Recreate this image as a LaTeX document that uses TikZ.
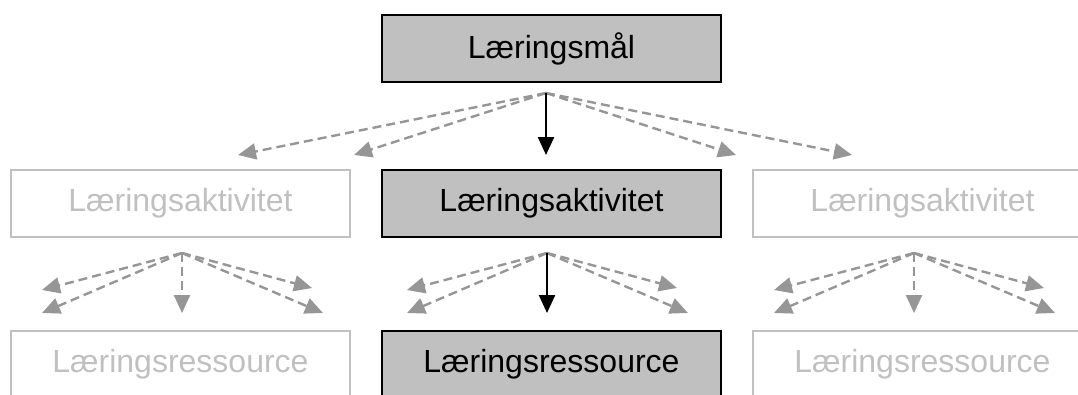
\documentclass[tikz,border=0pt]{standalone}
\usepackage{fontspec}
\setmainfont{Liberation Sans}
\usetikzlibrary{arrows.meta}
\definecolor{boxgray}{RGB}{192,192,192}
\definecolor{fangray}{RGB}{150,150,150}

\begin{document}
\begin{tikzpicture}[x=1pt,y=-1pt,
  every node/.style={font=\fontsize{32}{38}\selectfont, minimum width=339pt, minimum height=67pt, inner sep=0pt},
  main box/.style={draw=black, line width=2.2pt, fill=boxgray},
  faded box/.style={draw=boxgray, line width=2.2pt, text=boxgray},
  main arrow/.style={line width=2.4pt, -{Triangle[length=18pt,width=16pt]}},
  fan arrow/.style={fangray, line width=2.4pt, dash pattern=on 9pt off 5pt, -{Triangle[length=18pt,width=16pt]}}]
\useasboundingbox (0,0) rectangle (1078,394);
\node [main box] (goal) at (551.5,48.5) {Læringsmål};
\node [faded box] (actL) at (180.5,203.5) {Læringsaktivitet};
\node [main box] (actC) at (551.5,203.5) {Læringsaktivitet};
\node [faded box] (actR) at (922.5,203.5) {Læringsaktivitet};
\node [faded box] (resL) at (180.5,364.5) {Læringsressource};
\node [main box] (resC) at (551.5,364.5) {Læringsressource};
\node [faded box] (resR) at (922.5,364.5) {Læringsressource};
% from the goal to the activities
\coordinate (gsrc) at (546,93);
\foreach \x in {238,354,736,852}
  \draw [fan arrow] (gsrc) -- (\x,155);
\draw [main arrow] (gsrc) -- (gsrc |- 0,155);
% from each activity to the resources
\foreach \x/\n in {182/L,547/C,914/R} {
  \coordinate (asrc\n) at (\x,253);
  \draw [fan arrow] (asrc\n) -- ++(-140,37);
  \draw [fan arrow] (asrc\n) -- ++(-140,60);
  \draw [fan arrow] (asrc\n) -- ++(130,35);
  \draw [fan arrow] (asrc\n) -- ++(141,60);
}
\draw [fan arrow] (asrcL) -- ++(0,60);
\draw [fan arrow] (asrcR) -- ++(0,60);
\draw [main arrow] (asrcC) -- ++(0,60);
\end{tikzpicture}
\end{document}
